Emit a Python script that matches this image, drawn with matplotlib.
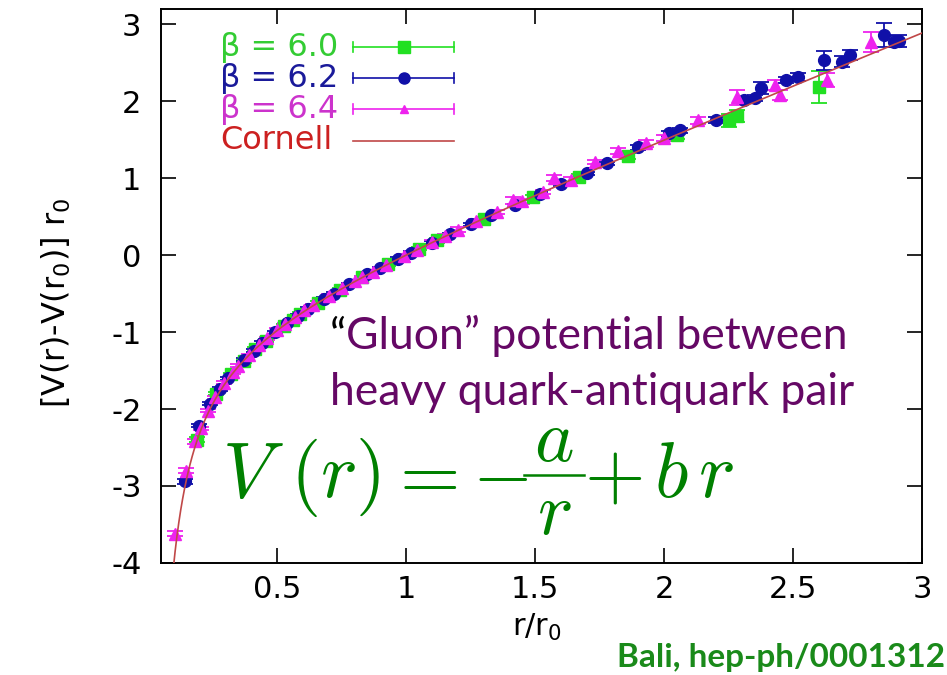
import matplotlib
matplotlib.use("Agg")
import matplotlib.pyplot as plt
from matplotlib.lines import Line2D
import numpy as np

# static quark potential, r in units of r0
beta60_r = [0.19, 0.263, 0.32, 0.37, 0.415, 0.455, 0.525, 0.56, 0.59, 0.66,
            0.745, 0.83, 0.93, 1.05, 1.12, 1.30, 1.49, 1.67, 1.86, 2.05,
            2.25, 2.28, 2.60]
beta60_v = [-2.40, -1.80, -1.55, -1.38, -1.22, -1.11, -0.92, -0.84, -0.76, -0.62,
            -0.45, -0.29, -0.12, 0.08, 0.19, 0.47, 0.75, 1.02, 1.29, 1.56,
            1.75, 1.81, 2.18]
beta60_err = [0.03, 0.02, 0.02, 0.02, 0.02, 0.02, 0.02, 0.02, 0.02, 0.02,
              0.02, 0.02, 0.02, 0.02, 0.03, 0.03, 0.03, 0.03, 0.04, 0.05,
              0.08, 0.08, 0.21]

beta62_r = [0.143, 0.198, 0.24, 0.28, 0.31, 0.37, 0.41, 0.44, 0.49, 0.54,
            0.58, 0.62, 0.68, 0.72, 0.78, 0.85, 0.90, 0.97, 1.02, 1.10,
            1.17, 1.25, 1.33, 1.42, 1.52, 1.60, 1.70, 1.78, 1.90, 2.02,
            2.06, 2.20, 2.31, 2.35, 2.376, 2.47, 2.52, 2.62, 2.69, 2.72,
            2.85, 2.89, 2.91]
beta62_v = [-2.94, -2.22, -1.93, -1.74, -1.60, -1.36, -1.24, -1.14, -1.00, -0.88,
            -0.79, -0.70, -0.57, -0.50, -0.38, -0.25, -0.17, -0.05, 0.03, 0.16,
            0.27, 0.40, 0.52, 0.65, 0.80, 0.92, 1.06, 1.19, 1.40, 1.58,
            1.62, 1.75, 2.01, 2.04, 2.17, 2.27, 2.31, 2.53, 2.51, 2.60,
            2.86, 2.77, 2.78]
beta62_err = [0.03, 0.02, 0.02, 0.02, 0.02, 0.02, 0.02, 0.02, 0.02, 0.02,
              0.02, 0.02, 0.02, 0.02, 0.02, 0.02, 0.02, 0.02, 0.02, 0.02,
              0.02, 0.02, 0.02, 0.02, 0.02, 0.02, 0.02, 0.02, 0.03, 0.03,
              0.03, 0.04, 0.04, 0.04, 0.08, 0.04, 0.05, 0.12, 0.07, 0.06,
              0.16, 0.07, 0.08]

beta64_r = [0.105, 0.147, 0.18, 0.205, 0.232, 0.26, 0.295, 0.33, 0.35, 0.39,
            0.43, 0.46, 0.50, 0.53, 0.57, 0.605, 0.64, 0.70, 0.75, 0.80,
            0.83, 0.87, 0.92, 0.99, 1.04, 1.10, 1.15, 1.20, 1.27, 1.35,
            1.415, 1.45, 1.53, 1.574, 1.64, 1.73, 1.82, 1.93, 2.00, 2.13,
            2.28, 2.43, 2.45, 2.63, 2.80]
beta64_v = [-3.62, -2.80, -2.42, -2.25, -2.02, -1.85, -1.66, -1.52, -1.44, -1.30,
            -1.17, -1.08, -0.97, -0.90, -0.80, -0.72, -0.65, -0.53, -0.43, -0.34,
            -0.29, -0.22, -0.13, -0.01, 0.07, 0.17, 0.25, 0.33, 0.44, 0.56,
            0.71, 0.70, 0.82, 1.00, 0.98, 1.21, 1.35, 1.45, 1.52, 1.75,
            2.05, 2.21, 2.08, 2.27, 2.77]
beta64_err = [0.03, 0.03, 0.03, 0.02, 0.02, 0.02, 0.02, 0.02, 0.02, 0.02,
              0.02, 0.02, 0.02, 0.02, 0.02, 0.02, 0.02, 0.02, 0.02, 0.02,
              0.02, 0.02, 0.02, 0.02, 0.02, 0.02, 0.03, 0.03, 0.03, 0.03,
              0.04, 0.03, 0.03, 0.04, 0.03, 0.03, 0.04, 0.04, 0.04, 0.05,
              0.10, 0.07, 0.06, 0.09, 0.13]

# Cornell fit: V(r) - V(r0) = -e (1/r - 1) + sigma (r - 1)
cornell_e = 0.31
cornell_sigma = 1.34

x_ticks = [0.5, 1, 1.5, 2, 2.5, 3]
x_tick_labels = ["0.5", "1", "1.5", "2", "2.5", "3"]
y_ticks = [-4, -3, -2, -1, 0, 1, 2, 3]

GREEN = "#22e022"
BLUE = "#1010a8"
MAGENTA = "#ee22ee"
CURVE = "#c04848"

plt.rcParams["axes.unicode_minus"] = False

W, H = 947, 675
fig = plt.figure(figsize=(W / 100, H / 100), dpi=100)
ax = fig.add_axes([0.170, 0.166, 0.804, 0.821])

series = [
    (beta60_r, beta60_v, beta60_err, GREEN, "s", 8),
    (beta62_r, beta62_v, beta62_err, BLUE, "o", 8.5),
    (beta64_r, beta64_v, beta64_err, MAGENTA, "^", 8),
]
for r, v, err, color, marker, ms in series:
    ax.errorbar(r, v, yerr=err, fmt=marker, color=color, ms=ms, mec=color,
                elinewidth=1.3, capsize=5.5, capthick=1.3, zorder=3)

r_fine = np.linspace(0.09, 3.0, 400)
ax.plot(r_fine, -cornell_e * (1 / r_fine - 1) + cornell_sigma * (r_fine - 1),
        color=CURVE, lw=1.2, zorder=4)

ax.set_xlim(0.05, 3.0)
ax.set_ylim(-4, 3.2)
ax.set_xticks(x_ticks)
ax.set_xticklabels(x_tick_labels)
ax.set_yticks(y_ticks)
ax.tick_params(direction="in", length=11, width=1.2, top=True, right=True,
               labelsize=22, pad=9)
ax.tick_params(axis="y", pad=14)
for s in ax.spines.values():
    s.set_linewidth(1.4)

ax.set_xlabel("r/r$_0$", fontsize=22)
ax.set_ylabel("[V(r)-V(r$_0$)] r$_0$", fontsize=23)
ax.xaxis.set_label_coords(0.494, -0.088)
ax.yaxis.set_label_coords(-0.116, 0.47)

# gnuplot-style key: label on the left, horizontal error bar sample on the right
key_rows = [
    ("β = 6.0", "#33cc33", GREEN, "s", 8),
    ("β = 6.2", "#1a1a9a", BLUE, "o", 8),
    ("β = 6.4", "#cc33cc", MAGENTA, "^", 6),
]
row_y = [0.931, 0.875, 0.819, 0.762]
cap = 0.009
for (label, tcolor, color, marker, ms), y in zip(key_rows, row_y):
    ax.text(0.0775, y, label, color=tcolor, fontsize=23, va="center",
            transform=ax.transAxes)
    ax.plot([0.252, 0.385], [y, y], color=color, lw=1.2, transform=ax.transAxes)
    for xc in (0.252, 0.385):
        ax.plot([xc, xc], [y - cap, y + cap], color=color, lw=1.2,
                transform=ax.transAxes)
    ax.plot([0.319], [y], marker=marker, color=color, ms=ms,
            transform=ax.transAxes)
ax.text(0.0775, row_y[3], "Cornell", color="#cc2020", fontsize=23, va="center",
        transform=ax.transAxes)
ax.plot([0.252, 0.385], [row_y[3], row_y[3]], color=CURVE, lw=1.2,
        transform=ax.transAxes)


def px(x, y):
    # pixel position (from top-left) to figure fraction
    return x / W, 1 - y / H


# annotations over the plot
PURPLE = "#650865"
q = fig.text(*px(330, 349), "\u201c", color="black", fontsize=32,
             family="Lato", va="baseline")
ax.annotate("Gluon\u201d potential between", xy=(1, 0), xycoords=q,
            va="bottom", ha="left", color=PURPLE, fontsize=32, family="Lato")
fig.text(*px(330, 405), "heavy quark-antiquark pair", color=PURPLE,
         fontsize=32, family="Lato", va="baseline")

# V(r) = -a/r + b r, with the fraction set in display size
FORMULA = "#008000"
fkw = dict(color=FORMULA, fontsize=56, math_fontfamily="cm", va="baseline")
frac_kw = dict(fkw, fontsize=54, ha="center")
fig.text(*px(222, 497), r"$V\ (r)$", **fkw)
fig.text(*px(386, 497), r"$=$", **fkw)
fig.text(*px(472, 497), r"$-$", **fkw)
fig.text(*px(554, 461), r"$a$", **frac_kw)
fig.text(*px(554, 534), r"$r$", **frac_kw)
fig.add_artist(Line2D([524 / W, 584 / W], [1 - 475 / H, 1 - 475 / H],
                      color=FORMULA, lw=1.8))
fig.text(*px(584, 497), r"$+$", **fkw)
fig.text(*px(654, 497), r"$b\,r$", **fkw)

fig.text(*px(945, 657), "Bali, hep-ph/0001312", color="#1a8a1a",
         fontsize=24, family="Lato", weight="bold", ha="right", va="center")

fig.savefig("out.png", dpi=100)
